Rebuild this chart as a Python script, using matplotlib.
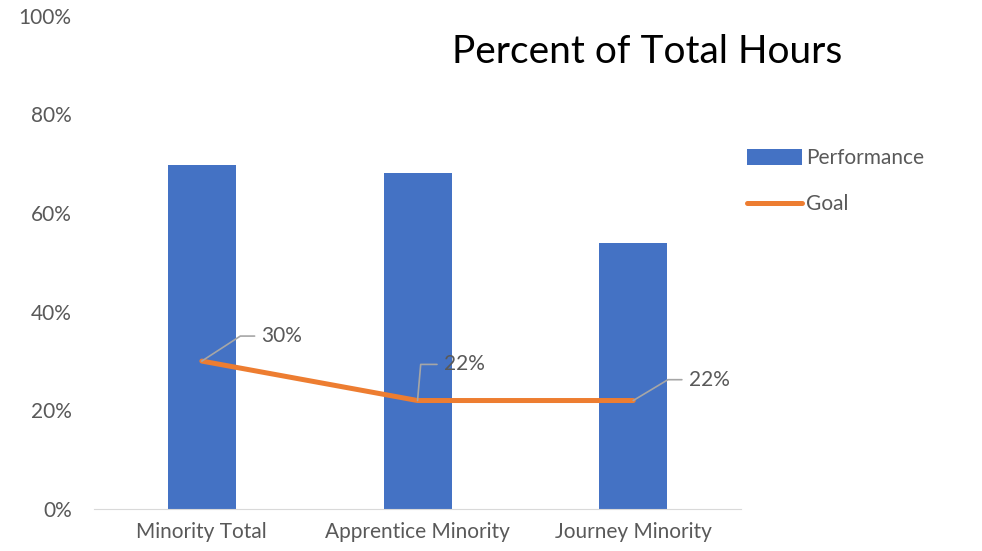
import matplotlib
matplotlib.use("Agg")
import matplotlib.pyplot as plt
from matplotlib.patches import Patch
from matplotlib.lines import Line2D

# ── Data ──────────────────────────────────────────────────────────────────────
categories = ["Minority Total", "Apprentice Minority", "Journey Minority"]
performance = [69.8, 68.2, 54.0]
goal = [30, 22, 22]
goal_labels = ["30%", "22%", "22%"]
y_ticks = [0, 20, 40, 60, 80, 100]

BLUE = "#4472C4"
ORANGE = "#ED7D31"
TEXT = "#595959"
LEADER = "#A6A6A6"

plt.rcParams["font.family"] = ["Lato", "DejaVu Sans"]

fig = plt.figure(figsize=(9.82, 5.51), dpi=100)
ax = fig.add_axes([0.0957, 0.0762, 0.659, 0.895])

x = list(range(len(categories)))
ax.bar(x, performance, width=0.315, color=BLUE, zorder=2)
ax.plot(x, goal, color=ORANGE, linewidth=3.6, solid_capstyle="round", zorder=3)

# data labels with leader lines (offsets in points, angle of leader)
offsets = [(43, 18, 33), (19, 26, 85), (40, 15, 31)]
for xi, yi, lab, (dx, dy, ang) in zip(x, goal, goal_labels, offsets):
    ax.annotate(lab, xy=(xi, yi), xytext=(dx, dy), textcoords="offset points",
                ha="left", va="center", fontsize=15, color=TEXT,
                arrowprops=dict(arrowstyle="-", color=LEADER, lw=1.2,
                                relpos=(0, 0.5), shrinkA=3, shrinkB=0,
                                connectionstyle=f"angle,angleA=0,angleB={ang},rad=0"))

ax.set_xlim(-0.5, 2.5)
ax.set_ylim(0, 100)
ax.set_yticks(y_ticks)
ax.set_yticklabels([f"{v}%" for v in y_ticks])
ax.set_xticks(x)
ax.set_xticklabels(categories)
ax.tick_params(axis="both", length=0, labelsize=15, colors=TEXT)
ax.tick_params(axis="y", pad=16)
ax.tick_params(axis="x", pad=9)
for s in ["top", "right", "left"]:
    ax.spines[s].set_visible(False)
ax.spines["bottom"].set_color("#D9D9D9")

fig.text(0.659, 0.905, "Percent of Total Hours", ha="center", va="center",
         fontsize=28, color="#000000")

handles = [Patch(facecolor=BLUE, edgecolor="none"),
           Line2D([0], [0], color=ORANGE, linewidth=3.6, solid_capstyle="round")]
fig.legend(handles, ["Performance", "Goal"], loc="upper left",
           bbox_to_anchor=(0.742, 0.765), frameon=False, fontsize=15,
           labelcolor=TEXT, handlelength=2.6, handleheight=0.8,
           handletextpad=0.2, labelspacing=1.25)

fig.savefig("out.png", dpi=100)
